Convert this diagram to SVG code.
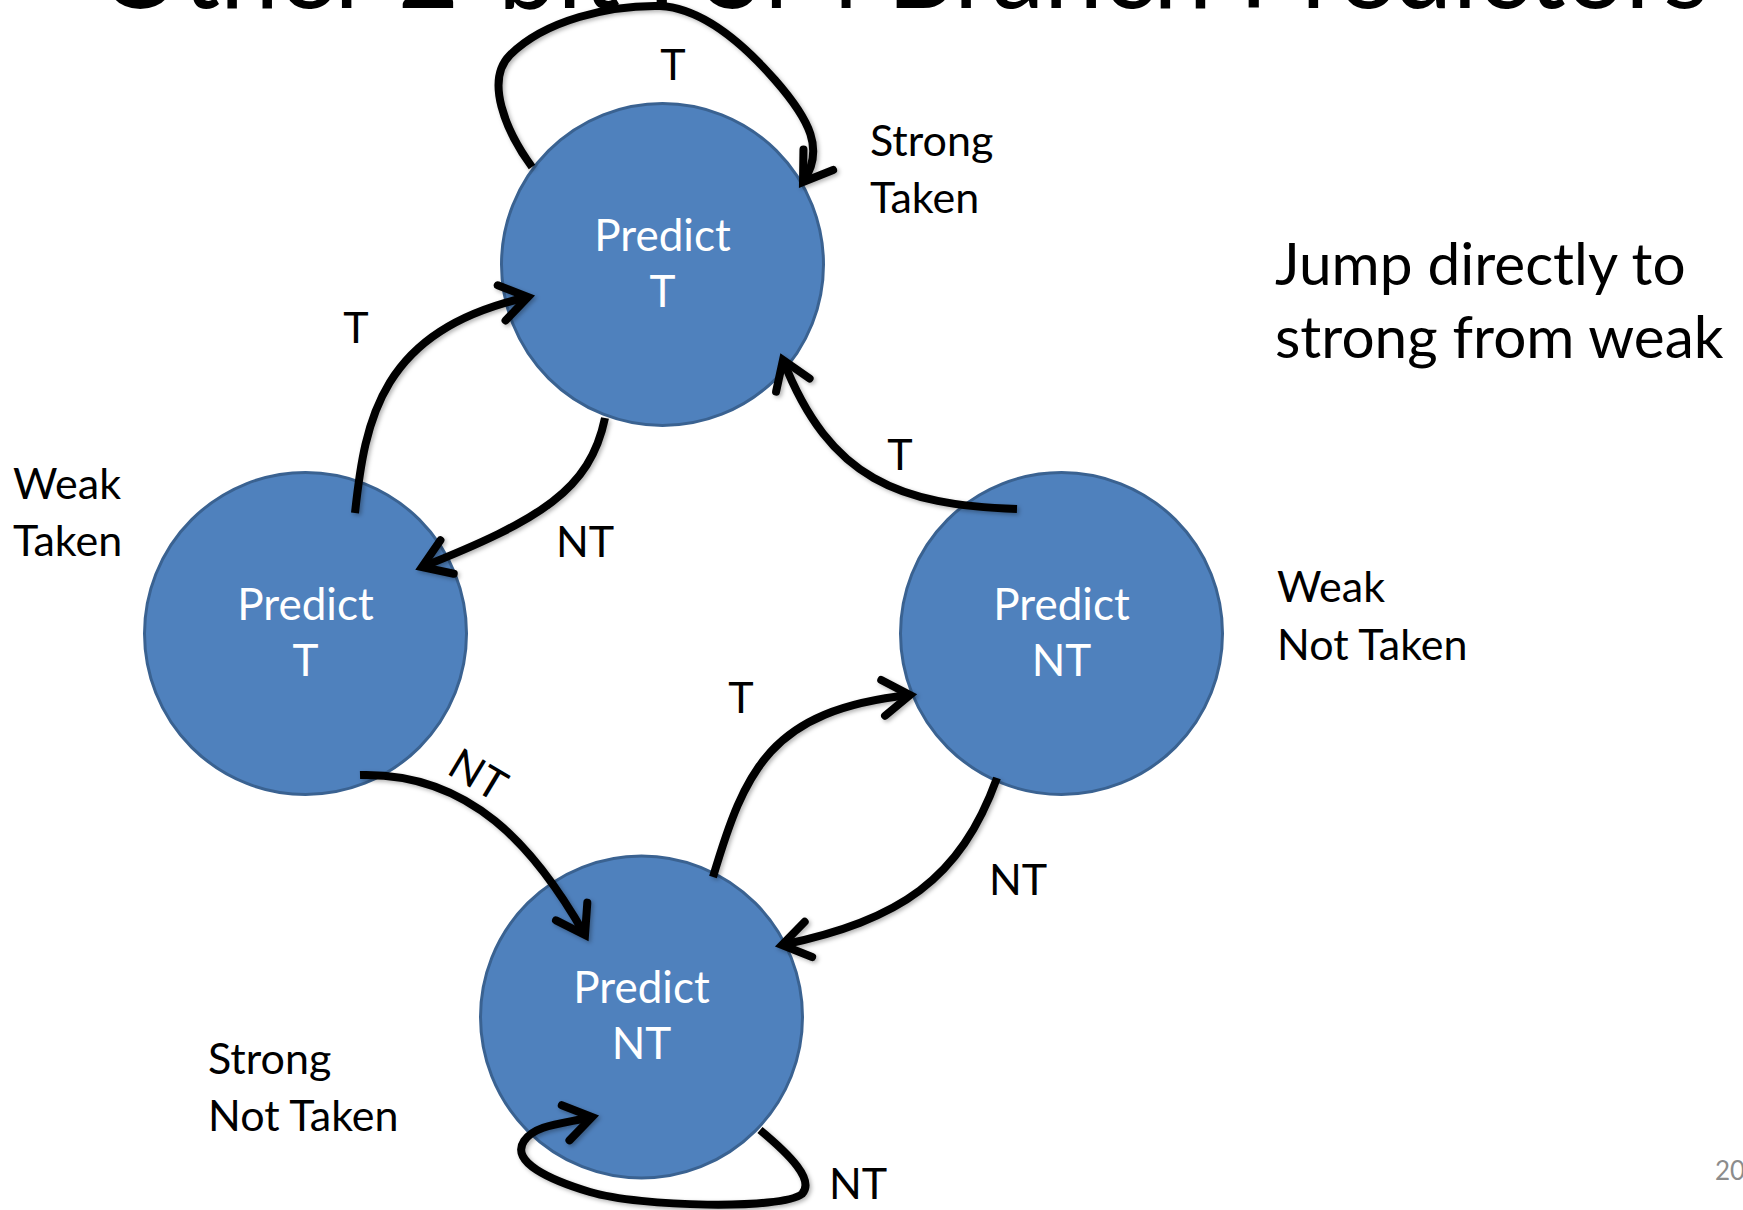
<svg xmlns="http://www.w3.org/2000/svg" width="1743" height="1210" viewBox="0 0 1743 1210">
  <defs>
    <style>
      .state { fill: #4F81BD; stroke: #3A6291; stroke-width: 3; }
      .state-text { font-family: Lato, "Liberation Sans", sans-serif; font-size: 44px; fill: #FFFFFF; text-anchor: middle; }
      .label { font-family: Lato, "Liberation Sans", sans-serif; font-size: 43px; fill: #000000; }
      .mid { text-anchor: middle; }
      .edge { fill: none; stroke: #000000; stroke-width: 8; stroke-linecap: butt; stroke-linejoin: round; marker-end: url(#openArrow); filter: url(#softShadow); }
      .title { font-family: Lato, "Liberation Sans", sans-serif; font-size: 110px; fill: #000000; }
      .note { font-family: Lato, "Liberation Sans", sans-serif; font-size: 58.5px; fill: #000000; }
      .page { font-family: Lato, "Liberation Sans", sans-serif; font-size: 26px; fill: #8C8C8C; }
    </style>
    <!-- open V-shaped arrowhead, sized in user units -->
    <marker id="openArrow" markerUnits="userSpaceOnUse" viewBox="-34 -24 40 48" markerWidth="40" markerHeight="48" refX="0" refY="0" orient="auto" overflow="visible">
      <path d="M -27 -18 L 0 0 L -27 18" fill="none" stroke="#000000" stroke-width="8" stroke-linecap="round" stroke-linejoin="miter"/>
    </marker>
    <filter id="softShadow" x="-20%" y="-20%" width="140%" height="140%">
      <feDropShadow dx="2" dy="2" stdDeviation="2" flood-color="#000000" flood-opacity="0.3"/>
    </filter>
  </defs>

  <rect width="1743" height="1210" fill="#FFFFFF"/>

  <!-- slide title, clipped by the top edge -->
  <text class="title" x="98" y="8" textLength="1611" lengthAdjust="spacingAndGlyphs">Other 2-bit FSM Branch Predictors</text>

  <!-- states -->
  <g id="strong-taken">
    <circle class="state" cx="662.5" cy="264.5" r="161"/>
    <text class="state-text" x="662.5" y="251">Predict</text>
    <text class="state-text" x="662.5" y="307">T</text>
  </g>
  <g id="weak-taken">
    <circle class="state" cx="305.5" cy="633.5" r="161"/>
    <text class="state-text" x="305.5" y="620">Predict</text>
    <text class="state-text" x="305.5" y="676">T</text>
  </g>
  <g id="weak-not-taken">
    <circle class="state" cx="1061.5" cy="633.5" r="161"/>
    <text class="state-text" x="1061.5" y="620">Predict</text>
    <text class="state-text" x="1061.5" y="676">NT</text>
  </g>
  <g id="strong-not-taken">
    <circle class="state" cx="641.5" cy="1017" r="161"/>
    <text class="state-text" x="641.5" y="1003">Predict</text>
    <text class="state-text" x="641.5" y="1059">NT</text>
  </g>

  <!-- transitions -->
  <g id="connectors">
    <path id="st-self" class="edge" d="M 532 167 C 505 130, 485 80, 510 55 C 545 20, 610 5, 660 6 C 700 8, 740 40, 775 80 C 810 120, 825 150, 803 182"/>
    <path id="wt-to-st" class="edge" d="M 355 513 C 365 420, 380 330, 528 297"/>
    <path id="st-to-wt" class="edge" d="M 605 418 C 590 490, 540 520, 422 567"/>
    <path id="wnt-to-st" class="edge" d="M 1017 509 C 900 505, 830 480, 783 360"/>
    <path id="wt-to-snt" class="edge" d="M 360 775 C 470 772, 535 847, 585 935"/>
    <path id="snt-to-wnt" class="edge" d="M 713 877 C 745 770, 770 710, 910 695"/>
    <path id="wnt-to-snt" class="edge" d="M 997 778 C 960 880, 900 920, 782 945"/>
    <path id="snt-self" class="edge" d="M 760 1130 C 790 1155, 815 1180, 802 1194 C 782 1210, 640 1207, 590 1192 C 550 1180, 510 1162, 524 1141 C 535 1125, 560 1124, 592 1117"/>
  </g>

  <!-- transition labels -->
  <g id="edge-labels">
    <text class="label mid" x="673" y="80">T</text>
    <text class="label mid" x="356" y="343">T</text>
    <text class="label mid" x="585" y="557">NT</text>
    <text class="label mid" x="900" y="470">T</text>
    <text class="label mid" x="741" y="713">T</text>
    <text class="label mid" transform="translate(478 775) rotate(31)" x="0" y="15">NT</text>
    <text class="label" x="989" y="895">NT</text>
    <text class="label" x="829" y="1199">NT</text>
  </g>

  <!-- state names -->
  <g id="state-names">
    <text class="label" x="870" y="156">Strong</text>
    <text class="label" x="870" y="213">Taken</text>
    <text class="label" x="13" y="499">Weak</text>
    <text class="label" x="13" y="556">Taken</text>
    <text class="label" x="1277" y="602">Weak</text>
    <text class="label" x="1277" y="660">Not Taken</text>
    <text class="label" x="208" y="1074">Strong</text>
    <text class="label" x="208" y="1131">Not Taken</text>
  </g>

  <!-- side note -->
  <g id="note">
    <text class="note" x="1275" y="285">Jump directly to</text>
    <text class="note" x="1275" y="358">strong from weak</text>
  </g>

  <text class="page" x="1715" y="1180">20</text>
</svg>
